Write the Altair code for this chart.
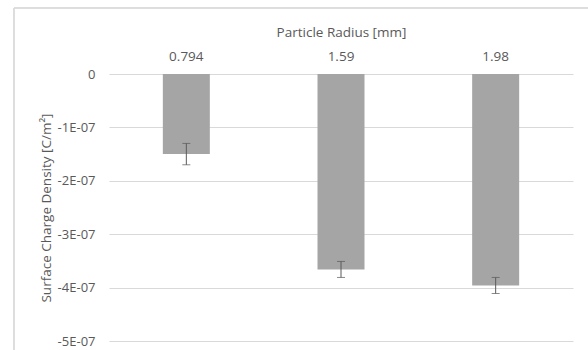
import altair as alt
import pandas as pd

radius = ["0.794", "1.59", "1.98"]
density = [-1.50e-07, -3.66e-07, -3.96e-07]
err = [0.20e-07, 0.15e-07, 0.15e-07]
y_ticks = [0, -1e-07, -2e-07, -3e-07, -4e-07, -5e-07]

df = pd.DataFrame({
    "radius": radius,
    "density": density,
    "lo": [d - e for d, e in zip(density, err)],
    "hi": [d + e for d, e in zip(density, err)],
})

FONT = "Open Sans"
TXT = "#595959"

x = alt.X("radius:N", sort=radius,
          scale=alt.Scale(paddingInner=0, paddingOuter=0),
          axis=alt.Axis(orient="top", title="Particle Radius [mm]", labelAngle=0,
                        ticks=False, domain=False, labelPadding=11, titlePadding=10,
                        labelFont=FONT, titleFont=FONT, labelFontSize=13.5, titleFontSize=13.5,
                        labelColor=TXT, titleColor=TXT, titleFontWeight="normal"))

yscale = alt.Scale(domain=[-5e-07, 0], nice=False)

bars = alt.Chart(df).mark_bar(color="#a5a5a5", size=47).encode(
    x=x,
    y=alt.Y("density:Q", scale=yscale,
            axis=alt.Axis(values=y_ticks, title="Surface Charge Density [C/m²]",
                          labelExpr="datum.value == 0 ? '0' : '-' + format(abs(datum.value) * 1e7, '.0f') + 'E-07'",
                          grid=True, gridColor="#d9d9d9", gridWidth=1,
                          ticks=False, domain=False, labelPadding=14, titlePadding=4,
                          labelFont=FONT, titleFont=FONT, labelFontSize=13, titleFontSize=13.5,
                          labelColor=TXT, titleColor=TXT, titleFontWeight="normal")),
)

rule = alt.Chart(df).mark_rule(color="#595959", strokeWidth=1).encode(
    x=alt.X("radius:N", sort=radius), y="lo:Q", y2="hi:Q")
cap_lo = alt.Chart(df).mark_tick(color="#595959", size=8, thickness=1).encode(
    x=alt.X("radius:N", sort=radius), y="lo:Q")
cap_hi = alt.Chart(df).mark_tick(color="#595959", size=8, thickness=1).encode(
    x=alt.X("radius:N", sort=radius), y="hi:Q")

border_top = alt.Chart(df).mark_rule(color="#d9d9d9", strokeWidth=1).encode(
    x=alt.value(-95), x2=alt.value(500), y=alt.value(-66))
border_left = alt.Chart(df).mark_rule(color="#d9d9d9", strokeWidth=1).encode(
    x=alt.value(-95), y=alt.value(-66), y2=alt.value(300))

chart = alt.layer(bars, rule, cap_lo, cap_hi, border_top, border_left).properties(
    width=464, height=267,
    autosize=alt.AutoSizeParams(type="none"),
    padding={"left": 109, "top": 74, "right": 15, "bottom": 9},
).configure_view(stroke=None)

chart.save("out.html", embed_options={"renderer": "svg", "actions": False})
